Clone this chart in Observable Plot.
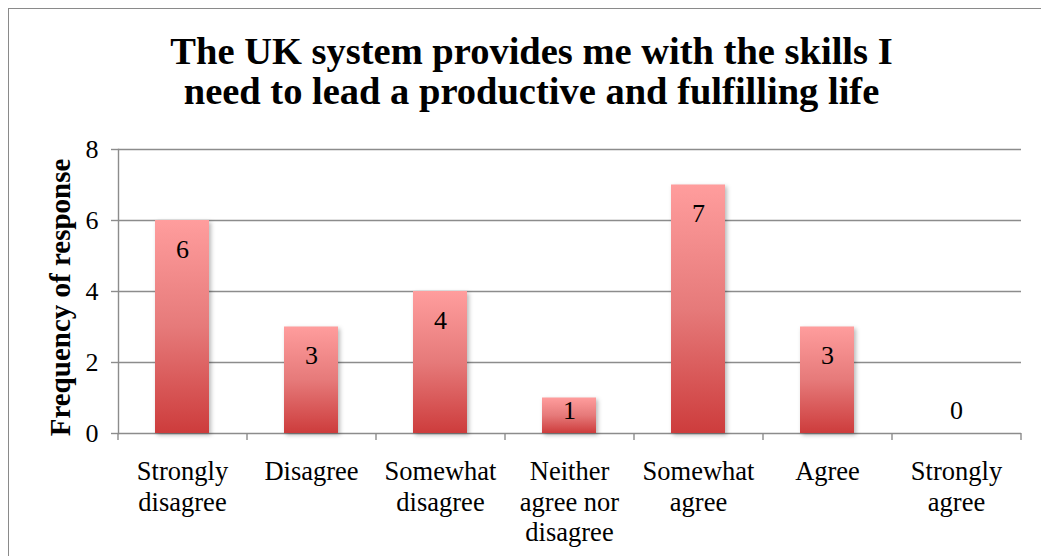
<!DOCTYPE html>
<html>
<head>
<meta charset="utf-8">
<script src="https://cdn.jsdelivr.net/npm/d3@7"></script>
<script src="https://cdn.jsdelivr.net/npm/@observablehq/plot@0.6"></script>
<style>
  html, body { margin: 0; padding: 0; background: #fff; overflow: hidden; }
  #wrap { position: relative; width: 1041px; height: 556px; overflow: hidden; font-family: "Liberation Serif", serif; }
  #frame { position: absolute; left: 8px; top: 8px; width: 1100px; height: 700px; border: 1.5px solid #8a8a8a; box-sizing: border-box; }
  #title { position: relative; height: 130px; box-sizing: border-box; padding-top: 31px; text-align: center; font-weight: bold; font-size: 38.5px; line-height: 40px; color: #000; padding-left: 22px; }
  #chart { position: relative; }
  g[aria-label="bar"] rect { filter: drop-shadow(2px 2px 2px rgba(0,0,0,0.28)); }
</style>
</head>
<body>
<div id="wrap">
  <div id="frame"></div>
  <div id="title">The UK system provides me with the skills I<br>need to lead a productive and fulfilling life</div>
  <div id="chart"></div>
</div>
<script>
const categories = ["Strongly disagree", "Disagree", "Somewhat disagree", "Neither agree nor disagree", "Somewhat agree", "Agree", "Strongly agree"];
const tickLabels = ["Strongly\ndisagree", "Disagree", "Somewhat\ndisagree", "Neither\nagree nor\ndisagree", "Somewhat\nagree", "Agree", "Strongly\nagree"];
const values = [6, 3, 4, 1, 7, 3, 0];
const yTicks = [0, 2, 4, 6, 8];
const yLabel = "Frequency of response";

const rows = categories.map((c, i) => ({category: c, value: values[i], label: String(values[i])}));
const labelOf = d => tickLabels[categories.indexOf(d)];
const gray = "#8c8c8c";

const chart = Plot.plot({
  width: 1041,
  height: 426,
  marginTop: 19,
  marginBottom: 123,
  marginLeft: 118,
  marginRight: 20,
  style: {fontFamily: "'Liberation Serif', serif", fontSize: "26px", color: "#000", background: "transparent", overflow: "visible"},
  x: {domain: categories, paddingInner: 0.58, paddingOuter: 0.29, axis: null},
  y: {domain: [0, 8], axis: null},
  marks: [
    Plot.ruleY(yTicks, {stroke: gray, strokeWidth: 1.4}),
    Plot.frame({anchor: "left", stroke: gray, strokeWidth: 1.4}),
    Plot.axisY(yTicks, {tickSize: 7, tickPadding: 13, stroke: gray, strokeWidth: 1.4, fontSize: 26, label: null}),
    Plot.ruleX(categories, {x: d => d, y1: 0, y2: -0.197, dx: -64.5, stroke: gray, strokeWidth: 1.4}),
    Plot.ruleX(categories.slice(-1), {x: d => d, y1: 0, y2: -0.197, dx: 64.5, stroke: gray, strokeWidth: 1.4}),
    Plot.axisX({tickSize: 0, tickPadding: 25, tickFormat: labelOf, lineHeight: 1.154, fontSize: 26.5, label: null}),
    Plot.barY(rows, {x: "category", y: "value", fill: "url(#barGrad)"}),
    Plot.text(rows, {x: "category", y: d => Math.max(d.value - 0.82, 0.65), text: "label", fontSize: 26, fill: "#000"}),
    Plot.text([yLabel], {frameAnchor: "left", textAnchor: "middle", rotate: -90, dx: -58, dy: 6, fontWeight: "bold", fontSize: 29, fill: "#000"})
  ]
});

const ns = "http://www.w3.org/2000/svg";
const defs = document.createElementNS(ns, "defs");
const grad = document.createElementNS(ns, "linearGradient");
grad.setAttribute("id", "barGrad");
grad.setAttribute("x1", "0"); grad.setAttribute("y1", "0");
grad.setAttribute("x2", "0"); grad.setAttribute("y2", "1");
[["0", "#ff9d9d"], ["0.5", "#e67a7a"], ["1", "#cd3c3c"]].forEach(([o, c]) => {
  const s = document.createElementNS(ns, "stop");
  s.setAttribute("offset", o);
  s.setAttribute("stop-color", c);
  grad.appendChild(s);
});
defs.appendChild(grad);
chart.insertBefore(defs, chart.firstChild);
document.getElementById("chart").appendChild(chart);
</script>
</body>
</html>
